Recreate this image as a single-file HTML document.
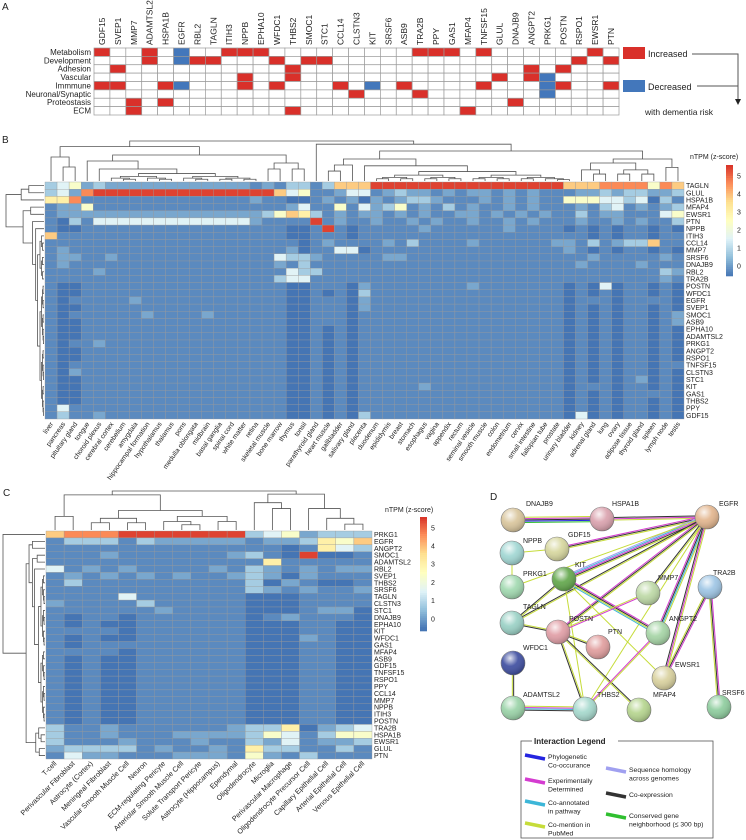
<!DOCTYPE html>
<html><head><meta charset="utf-8">
<style>
html,body{margin:0;padding:0;background:#fff;}
svg{display:block;font-family:"Liberation Sans",Arial,sans-serif;}
</style></head>
<body>
<svg id="fig" width="746" height="840" viewBox="0 0 746 840" xmlns="http://www.w3.org/2000/svg">
<defs>
<radialGradient id="gloss" cx="0.38" cy="0.3" r="0.75">
<stop offset="0" stop-color="#fff" stop-opacity="0.85"/>
<stop offset="0.45" stop-color="#fff" stop-opacity="0.1"/>
<stop offset="1" stop-color="#000" stop-opacity="0.25"/>
</radialGradient>
</defs>
<g id="panelA"></g>
<g id="panelB"></g>
<g id="panelC"></g>
<g id="panelD"></g>
</svg>
<script>
// ---------- Panel A data ----------
const genesA = ["GDF15","SVEP1","MMP7","ADAMTSL2","HSPA1B","EGFR","RBL2","TAGLN","ITIH3","NPPB","EPHA10","WFDC1","THBS2","SMOC1","STC1","CCL14","CLSTN3","KIT","SRSF6","ASB9","TRA2B","PPY","GAS1","MFAP4","TNFSF15","GLUL","DNAJB9","ANGPT2","PRKG1","POSTN","RSPO1","EWSR1","PTN"];
const categoriesA = ["Metabolism","Development","Adhesion","Vascular","Immmune","Neuronal/Synaptic","Proteostasis","ECM"];
// r = increased, b = decreased, . = none
const gridA = [
"r..r.b..rrr.........rrr.r......r.",
"...r.brr...r.rr...............r.r",
".r..........r..............r.r...",
".........r..r............r.rb....",
"rr..rb...r.r...r.b.r....r...br..r",
"................r...r.......b....",
"..r.r.....................r......",
"..r.........r..........r........."
];

// ---------- Panel B data ----------
const rowsBlabels = ["TAGLN","GLUL","HSPA1B","MFAP4","EWSR1","PTN","NPPB","ITIH3","CCL14","MMP7","SRSF6","DNAJB9","RBL2","TRA2B","POSTN","WFDC1","EGFR","SVEP1","SMOC1","ASB9","EPHA10","ADAMTSL2","PRKG1","ANGPT2","RSPO1","TNFSF15","CLSTN3","STC1","KIT","GAS1","THBS2","PPY","GDF15"];
const tissuesB = ["liver","pancreas","pituitary gland","tongue","choroid plexus","cerebral cortex","cerebellum","amygdala","hippocampal formation","hypothalamus","thalamus","pons","medulla oblongata","midbrain","basal ganglia","spinal cord","white matter","retina","skeletal muscle","bone marrow","thymus","tonsil","parathyroid gland","heart muscle","gallbladder","salivary gland","placenta","duodenum","epididymis","breast","stomach","esophagus","vagina","appendix","rectum","seminal vesicle","smooth muscle","colon","endometrium","cervix","small intestine","fallopian tube","prostate","urinary bladder","kidney","adrenal gland","lung","ovary","adipose tissue","thyroid gland","spleen","lymph node","testis"];
// value codes 0..9 (see codeValues)
const codeValues = [-0.6,-0.3,0.1,0.7,1.5,2.3,3.0,3.8,4.6,5.4];
const heatB = [
"345"+"2322222222222212"+"13313777"+"9999999999999999"+"7778888587",
"342"+"8999999999999999"+"74511244"+"1232212122121211"+"1223233223",
"668"+"1111111111111121"+"10012120"+"2123321112121211"+"5554434031",
"122"+"5111111111111111"+"12411514"+"2351213121121211"+"1213412123",
"122"+"2222222222222223"+"57631212"+"2121211221212121"+"1312211145",
"103"+"1444444444444421"+"11191211"+"2112121121121211"+"1211212113",
"100"+"1111111111111111"+"10019101"+"1111211111121111"+"0101011010",
"711"+"1111111111111111"+"10011101"+"1111111111111111"+"1101011011",
"111"+"1111111111111111"+"11012111"+"1213111121111112"+"2131233711",
"121"+"1111111111111111"+"12011440"+"1111111111111111"+"2101011010",
"122"+"1121111111111111"+"43321111"+"1221111111111111"+"1121111121",
"121"+"1111111111111111"+"21311111"+"1111111111111111"+"1211112111",
"111"+"1211111111111111"+"14331111"+"1111111111111111"+"1111111132",
"111"+"1111111111111111"+"34411111"+"1111111111111111"+"1111111121",
"100"+"1111111111111111"+"10011102"+"1111111121111111"+"0104011010",
"100"+"1111111111111111"+"10010103"+"1111111111111111"+"0101011010",
"101"+"1111211111111111"+"10011102"+"1111111111111111"+"0111011110",
"100"+"1111111111111111"+"10011102"+"1111111111111111"+"0101011010",
"101"+"1111121111211111"+"10011101"+"1111111111111111"+"0101011012",
"100"+"1111111111111111"+"10011101"+"1111111111111111"+"0101011012",
"100"+"1111111111111111"+"10010101"+"1111111111111111"+"0101011010",
"100"+"1111111111111111"+"10010101"+"1111111111111111"+"0101011010",
"101"+"1211111111111111"+"10010101"+"1111111111111111"+"0101011010",
"100"+"1111111111111111"+"10010101"+"1111111111111111"+"0101011010",
"100"+"1111111111111111"+"10010101"+"1111111111111111"+"0101011010",
"101"+"1111111111111111"+"10010101"+"1111111111111111"+"0101011011",
"102"+"1111111111111111"+"10010101"+"1111111111111111"+"0101011010",
"100"+"1111111111111111"+"10010101"+"1111111111111111"+"0101012010",
"100"+"1111111111111111"+"10010101"+"1111211111111111"+"0111011010",
"100"+"1111111111111111"+"10010101"+"1111111111111111"+"0101011110",
"100"+"1111111111111111"+"10010101"+"1111111111111111"+"0101011010",
"141"+"1111111111111111"+"10010101"+"1111111111111111"+"0101011010",
"131"+"1211111111111111"+"10010103"+"1111111111111111"+"0401011010"
];
const ticksBar = [0,1,2,3,4,5];

// ---------- Panel C data ----------
const rowsClabels = ["PRKG1","EGFR","ANGPT2","SMOC1","ADAMTSL2","RBL2","SVEP1","THBS2","SRSF6","TAGLN","CLSTN3","STC1","DNAJB9","EPHA10","KIT","WFDC1","GAS1","MFAP4","ASB9","GDF15","TNFSF15","RSPO1","PPY","CCL14","MMP7","NPPB","ITIH3","POSTN","TRA2B","HSPA1B","EWSR1","GLUL","PTN"];
const cellsC = ["T-cell","Perivascular Fibroblast","Astrocyte (Cortex)","Meningeal Fibroblast","Vascular Smooth Muscle Cell","Neuron","ECM-regulating Pericyte","Arteriolar Smooth Muscle Cell","Solute Transport Pericyte","Astrocyte (Hippocampus)","Ependymal","Oligodendrocyte","Microglia","Perivascular Macrophage","Oligodendrocyte Precursor Cell","Capillary Epithelial Cell","Arterial Epithelial Cell","Venous Epithelial Cell"];
const heatC = [
"78889999999"+"3452333",
"13331322222"+"1223657",
"11111111111"+"1101643",
"11121111112"+"3109001",
"11111111111"+"1611111",
"41212111121"+"3212122",
"12121212112"+"3202111",
"13111111111"+"3021001",
"11111111111"+"3212112",
"11114111111"+"0001111",
"21111311111"+"0001111",
"11111121111"+"0001220",
"10110111111"+"0121110",
"10100111111"+"0001100",
"11110111111"+"0001100",
"10100111111"+"0002100",
"10111111111"+"0001100",
"11110111111"+"0001100",
"10100111111"+"0001100",
"10100111111"+"0001100",
"10100111111"+"0001100",
"10100111111"+"0001100",
"10100111111"+"0001100",
"10100111111"+"0001100",
"10100111111"+"0001100",
"10100111111"+"0001100",
"10100111111"+"0001100",
"10100111111"+"0001100",
"31121111112"+"3360234",
"31121112222"+"3541355",
"31112111211"+"3241223",
"23333121121"+"6331131",
"14221112221"+"5213111"
];

// ---------- Panel D data ----------
const nodeNames = ["DNAJB9","HSPA1B","EGFR","NPPB","GDF15","PRKG1","KIT","MMP7","TRA2B","TAGLN","POSTN","PTN","ANGPT2","WFDC1","EWSR1","ADAMTSL2","THBS2","MFAP4","SRSF6"];
const edgeList = [
["EGFR","HSPA1B","ymk"],["EGFR","GDF15","ykm"],["EGFR","KIT","ykmcl"],["EGFR","PRKG1","y"],["EGFR","TAGLN","yk"],
["EGFR","POSTN","ykm"],["EGFR","ANGPT2","yckm"],["EGFR","MMP7","yk"],["EGFR","EWSR1","ymk"],["EGFR","THBS2","y"],
["DNAJB9","HSPA1B","ymkbg"],["NPPB","GDF15","y"],["NPPB","PRKG1","y"],["KIT","TAGLN","yk"],["KIT","ANGPT2","mkyc"],
["KIT","EWSR1","y"],["KIT","THBS2","y"],["TAGLN","POSTN","yk"],["POSTN","MMP7","ym"],["POSTN","PTN","yk"],
["POSTN","THBS2","yk"],["POSTN","MFAP4","ky"],["ANGPT2","THBS2","ym"],["TRA2B","EWSR1","mky"],["TRA2B","SRSF6","mky"],
["WFDC1","ADAMTSL2","ky"],["ADAMTSL2","THBS2","ymck"]
];

// ================= rendering =================
const NS = "http://www.w3.org/2000/svg";
function mk(parent, tag, attrs, text){
  const e = document.createElementNS(NS, tag);
  for (const k in attrs) e.setAttribute(k, attrs[k]);
  if (text !== undefined) e.textContent = text;
  parent.appendChild(e);
  return e;
}
const stops = [[-0.6,[69,117,180]],[0.433,[145,191,219]],[1.467,[224,243,248]],[2.5,[255,255,191]],[3.533,[254,224,144]],[4.567,[252,141,89]],[5.6,[215,48,39]]];
function colorOf(v){
  if (v<=stops[0][0]) return "rgb("+stops[0][1].join(",")+")";
  for (let i=1;i<stops.length;i++){
    if (v<=stops[i][0]){
      const t=(v-stops[i-1][0])/(stops[i][0]-stops[i-1][0]);
      const a=stops[i-1][1], b=stops[i][1];
      return "rgb("+a.map((x,j)=>Math.round(x+(b[j]-x)*t)).join(",")+")";
    }
  }
  return "rgb("+stops[6][1].join(",")+")";
}
function label(parent, x, y, txt, size, anchor, extra){
  return mk(parent,"text",Object.assign({x:x,y:y,"font-size":size,"text-anchor":anchor||"start",fill:"#222"},extra||{}),txt);
}

// ---------- Panel A ----------
(function(){
  const g = document.getElementById("panelA");
  const t0 = label(g,2,10,"A",10,"start");
  
  
  const x0=94, x1=619, y0=48, y1=115;
  const cw=(x1-x0)/genesA.length, rh=(y1-y0)/categoriesA.length;
  for (let r=0;r<categoriesA.length;r++){
    const rl = label(g,91,y0+(r+0.5)*rh+2.8,categoriesA[r],8,"end");
    
    
    for (let c=0;c<genesA.length;c++){
      const ch = (gridA[r]||"")[c]||".";
      const fill = ch==="r"?"#d9302a":(ch==="b"?"#4377bb":"#ffffff");
      const rect = mk(g,"rect",{x:x0+c*cw,y:y0+r*rh,width:cw,height:rh,fill:fill,stroke:"#9a9a9a","stroke-width":0.7});
      
      
    }
  }
  for (let c=0;c<genesA.length;c++){
    const x=x0+(c+0.5)*cw+3;
    const gl = label(g,0,0,genesA[c],8.5,"start",{transform:"translate("+x+",45) rotate(-90)"});
    
    
  }
  const inc = mk(g,"rect",{x:623,y:47,width:22,height:12,fill:"#d9302a"});
  
  
  const it = label(g,648,57,"Increased",9,"start");
  
  
  const dec = mk(g,"rect",{x:623,y:80,width:22,height:12,fill:"#4377bb"});
  
  
  const dt = label(g,648,90,"Decreased",9,"start");
  
  
  const ar = mk(g,"path",{d:"M692,54 H738 V100 M697,86 H738",fill:"none",stroke:"#555","stroke-width":1});
  
  
  const ah = mk(g,"path",{d:"M735,99 L741,99 L738,105 Z",fill:"#222"});
  
  
  const wt = label(g,645,115,"with dementia risk",8.5,"start");
  
  
})();

// ---------- dendrogram helper ----------
function dendro(g, lo, hi, spec, pos, hmap, horizontalTop){
  function build(lo, hi, sp, ph){
    if (lo===hi) return {p:pos(lo), h:0};
    let s, h, ls=null, rs=null;
    if (sp){ s=sp.s; h=sp.h; ls=sp.l||null; rs=sp.r||null; }
    else { s=Math.floor((lo+hi+1)/2); h=ph*0.62; }
    const L=build(lo,s-1,ls,h), R=build(s,hi,rs,h);
    const d = horizontalTop
      ? "M"+L.p+","+hmap(L.h)+" V"+hmap(h)+" H"+R.p+" V"+hmap(R.h)
      : "M"+hmap(L.h)+","+L.p+" H"+hmap(h)+" V"+R.p+" H"+hmap(R.h);
    const path = mk(g,"path",{d:d,fill:"none",stroke:"#555","stroke-width":0.8});
    
    
    return {p:(L.p+R.p)/2, h:h};
  }
  build(lo,hi,spec,1);
}

// ---------- heatmap helper ----------
function heatmap(g, data, x0, y0, cw, rh, nameCell){
  for (let r=0;r<data.length;r++){
    for (let c=0;c<data[r].length;c++){
      const v = codeValues[+data[r][c]];
      const rect = mk(g,"rect",{x:x0+c*cw,y:y0+r*rh,width:cw,height:rh,fill:colorOf(v),stroke:"#999","stroke-width":0.35});
      
      
    }
  }
}
function colorbar(g, x, yTop, yBot, vTop, vBot, fontSize, titleX, titleY){
  const n=60, h=(yBot-yTop)/n;
  for (let i=0;i<n;i++){
    const v = vTop - (i+0.5)/n*(vTop-vBot);
    const r = mk(g,"rect",{x:x,y:yTop+i*h,width:7,height:h+0.3,fill:colorOf(v)});
    
    
  }
  const ys = v => yTop + (vTop-v)/(vTop-vBot)*(yBot-yTop);
  ticksBar.forEach(t=>{
    const tl = label(g,x+11,ys(t)+3,String(t),fontSize,"start");
    
    
  });
  const tt = label(g,titleX,titleY,"nTPM (z-score)",7,"start");
  
  
}

// ---------- Panel B ----------
(function(){
  const g = document.getElementById("panelB");
  const t0 = label(g,2,143,"B",10,"start");
  
  
  const x0=45, x1=684, y0=182, y1=419;
  const nc=tissuesB.length, nr=rowsBlabels.length;
  const cw=(x1-x0)/nc, rh=(y1-y0)/nr;
  heatmap(g, heatB, x0, y0, cw, rh, 'tissue-heatmap-cell');
  for (let r=0;r<nr;r++){
    const l = label(g,x1+2,y0+(r+0.5)*rh+2.5,rowsBlabels[r],7,"start");
    
    
  }
  for (let c=0;c<nc;c++){
    const x=x0+(c+0.5)*cw+2.5;
    const l = label(g,0,0,tissuesB[c],6.8,"end",{transform:"translate("+x+",424) rotate(-55)"});
    
    
  }
  const top = mk(g,"g",{});  
  dendro(top,0,nc-1,
    {s:22,h:1,l:{s:3,h:0.86,l:{s:1,h:0.6,r:{s:2,h:0.35}},r:{s:18,h:0.65,l:{s:4,h:0.5,r:{s:5,h:0.3}},r:{s:20,h:0.45,l:{s:19,h:0.3},r:{s:21,h:0.3}}}},
     r:{s:23,h:0.92,r:{s:44,h:0.75,l:{s:26,h:0.55,l:{s:25,h:0.4},r:{s:27,h:0.38}},r:{s:51,h:0.55,l:{s:47,h:0.45}}}}},
    i=>x0+(i+0.5)*cw, h=>y0-1-h*40, true);
  const left = mk(g,"g",{});  
  dendro(left,0,nr-1,
    {s:3,h:1,l:{s:2,h:0.6,l:{s:1,h:0.4}},r:{s:5,h:0.55,l:{s:4,h:0.35},r:{s:6,h:0.3,r:{s:7,h:0.22,r:{s:14,h:0.17}}}}},
    i=>y0+(i+0.5)*rh, h=>x0-1-h*38, false);
  colorbar(g,726,165,276,5.6,-0.6,7,690,159);
})();

// ---------- Panel C ----------
(function(){
  const g = document.getElementById("panelC");
  const t0 = label(g,3,496,"C",10,"start");
  
  
  const x0=46, x1=372, y0=531, y1=759;
  const nc=cellsC.length, nr=rowsClabels.length;
  const cw=(x1-x0)/nc, rh=(y1-y0)/nr;
  heatmap(g, heatC, x0, y0, cw, rh, 'celltype-heatmap-cell');
  for (let r=0;r<nr;r++){
    const l = label(g,x1+2,y0+(r+0.5)*rh+2.5,rowsClabels[r],7,"start");
    
    
  }
  for (let c=0;c<nc;c++){
    const x=x0+(c+0.5)*cw+2;
    const l = label(g,0,0,cellsC[c],7.2,"end",{transform:"translate("+x+",764) rotate(-45)"});
    
    
  }
  const top = mk(g,"g",{});  
  dendro(top,0,nc-1,
    {s:11,h:1,l:{s:2,h:0.9,l:{s:1,h:0.35},r:{s:6,h:0.5,l:{s:4,h:0.3},r:{s:9,h:0.35}}},
     r:{s:14,h:0.92,l:{s:12,h:0.7,r:{s:13,h:0.55}},r:{s:15,h:0.55,r:{s:16,h:0.3,r:{s:17,h:0.15}}}}},
    i=>x0+(i+0.5)*cw, h=>y0-1-h*39, true);
  const left = mk(g,"g",{});  
  dendro(left,0,nr-1,
    {s:1,h:1,r:{s:28,h:0.45,l:{s:3,h:0.38,l:{s:2,h:0.3},r:{s:5,h:0.3,r:{s:6,h:0.25}}},r:{s:31,h:0.22,l:{s:29,h:0.15}}}},
    i=>y0+(i+0.5)*rh, h=>x0-1-h*42, false);
  colorbar(g,420,517,631,5.57,-0.7,7,385,512);
})();

// ---------- Panel D ----------
const nodePos = {DNAJB9:[513,520],HSPA1B:[602,519],EGFR:[707,517],NPPB:[512,553],GDF15:[557,549],PRKG1:[512,587],KIT:[564,579],MMP7:[648,593],TRA2B:[710,587],TAGLN:[512,623],POSTN:[558,632],PTN:[598,647],ANGPT2:[658,633],WFDC1:[513,663],EWSR1:[664,678],ADAMTSL2:[513,708],THBS2:[585,709],MFAP4:[639,710],SRSF6:[719,707]};
const nodeColor = {DNAJB9:"#d8c49a",HSPA1B:"#d9a0ac",EGFR:"#e2b48c",NPPB:"#9fd6d2",GDF15:"#d6d69c",PRKG1:"#9fd8ae",KIT:"#5fa548",MMP7:"#bcd8a4",TRA2B:"#9cc4e4",TAGLN:"#98d0c4",POSTN:"#e09ca4",PTN:"#e09c9c",ANGPT2:"#a4d4a4",WFDC1:"#3a4a9e",EWSR1:"#d8d09c",ADAMTSL2:"#98d2a6",THBS2:"#a4d8cc",MFAP4:"#b4d48c",SRSF6:"#8ccc9c"};
const labelOff = {DNAJB9:[13,-14],HSPA1B:[10,-13],EGFR:[12,-11],NPPB:[11,-10],GDF15:[11,-12],PRKG1:[11,-11],KIT:[11,-12],MMP7:[10,-13],TRA2B:[3,-12],TAGLN:[11,-14],POSTN:[11,-11],PTN:[10,-13],ANGPT2:[11,-12],WFDC1:[10,-13],EWSR1:[11,-11],ADAMTSL2:[10,-11],THBS2:[12,-12],MFAP4:[14,-13],SRSF6:[3,-12]};
const edgeColors = {y:"#c6dc3a",k:"#333333",m:"#d43cd0",c:"#3cb6d8",l:"#a0a0f0",b:"#2424e0",g:"#2fbf2f"};
(function(){
  const g = document.getElementById("panelD");
  const t0 = label(g,490,500,"D",10,"start");
  
  
  const eg = mk(g,"g",{});  
  edgeList.forEach(e=>{
    const a=nodePos[e[0]], b=nodePos[e[1]];
    const dx=b[0]-a[0], dy=b[1]-a[1], L=Math.hypot(dx,dy), nx=-dy/L, ny=dx/L;
    const n=e[2].length;
    for (let i=0;i<n;i++){
      const o=(i-(n-1)/2)*1.3;
      const ln = mk(eg,"line",{x1:a[0]+nx*o,y1:a[1]+ny*o,x2:b[0]+nx*o,y2:b[1]+ny*o,stroke:edgeColors[e[2][i]],"stroke-width":1});
      
      
    }
  });
  nodeNames.forEach(nm=>{
    const p=nodePos[nm];
    const ng = mk(g,"g",{});
    
    
    mk(ng,"circle",{cx:p[0],cy:p[1],r:12,fill:nodeColor[nm],stroke:"#7a7a7a","stroke-width":0.6});
    mk(ng,"circle",{cx:p[0],cy:p[1],r:12,fill:"url(#gloss)"});
    const o=labelOff[nm];
    label(ng,p[0]+o[0],p[1]+o[1],nm,7,"start");
  });
  const lg = mk(g,"g",{});  
  mk(lg,"rect",{x:521,y:741,width:192,height:97,fill:"none",stroke:"#555","stroke-width":0.8});
  mk(lg,"rect",{x:532,y:736,width:86,height:9,fill:"#fff"});
  const lt = label(lg,534,744,"Interaction Legend",8,"start",{"font-weight":"bold"});
  
  
  const items = [
    [525,757,"b",["Phylogenetic","Co-occurance"],548],
    [525,781,"m",["Experimentally","Determined"],548],
    [525,803,"c",["Co-annotated","in pathway"],548],
    [525,825,"y",["Co-mention in","PubMed"],548],
    [606,770,"l",["Sequence homology","across genomes"],629],
    [606,795,"k",["Co-expression"],629],
    [606,816,"g",["Conserved gene","neighborhood (\u2264 300 bp)"],629]
  ];
  items.forEach(it=>{
    const sw = mk(lg,"line",{x1:it[0],y1:it[1]-2,x2:it[0]+20,y2:it[1]+2,stroke:edgeColors[it[2]],"stroke-width":3.5});
    
    
    it[3].forEach((s,i)=>{
      const tl = label(lg,it[4],it[1]+2+i*8.5,s,6.8,"start");
      
      
    });
  });
})();
</script>
</body></html>
